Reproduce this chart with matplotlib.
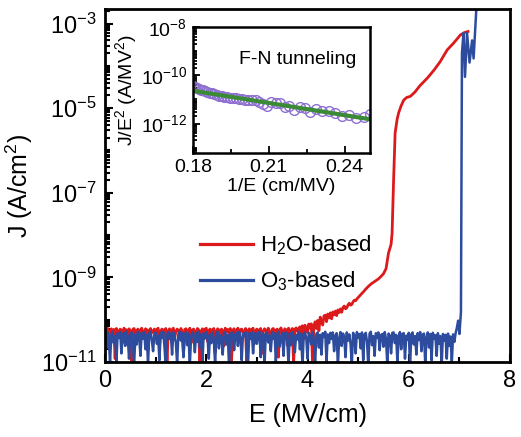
import numpy as np
import matplotlib
matplotlib.use("Agg")
import matplotlib.pyplot as plt
from matplotlib.ticker import FixedLocator, LogLocator, NullFormatter, MultipleLocator

plt.rcParams['font.family'] = ['Liberation Sans', 'DejaVu Sans']
plt.rcParams['mathtext.fontset'] = 'custom'
plt.rcParams['mathtext.rm'] = 'Liberation Sans'
plt.rcParams['mathtext.it'] = 'Liberation Sans:italic'
plt.rcParams['mathtext.bf'] = 'Liberation Sans:bold'

# bias sweep step (MV/cm)
step = 0.025

# O3-based film: leakage floor from 0 to 7.0 MV/cm, in units of 1e-11 A/cm2
o3_floor = [4.6, 2.1, 5.0, 3.4, 1.0, 4.4, 5.2, 2.8, 4.1, 0.9, 4.8, 3.7, 5.1, 1.6, 4.3, 4.9, 2.4, 5.3, 3.9, 1.2,
            4.7, 5.0, 3.1, 0.8, 4.5, 2.6, 5.2, 4.0, 1.4, 4.9, 3.6, 5.1, 2.0, 4.4, 0.9, 4.8, 5.3, 3.3, 1.8, 4.6,
            5.0, 2.7, 4.2, 1.1, 4.9, 3.8, 5.2, 2.3, 0.8, 4.5, 5.1, 3.5, 4.7, 1.5, 5.0, 4.1, 2.9, 0.9, 4.6, 5.2,
            3.2, 4.8, 1.3, 4.4, 5.0, 2.5, 4.7, 0.8, 3.9, 5.1, 4.3, 1.7, 4.9, 3.0, 5.2, 2.2, 4.5, 1.0, 4.8, 3.6,
            5.1, 4.0, 1.2, 4.6, 2.8, 5.0, 3.4, 0.9, 4.7, 5.2, 2.1, 4.3, 3.8, 1.5, 4.9, 5.1, 2.6, 4.4, 0.8, 4.8,
            3.3, 5.0, 1.9, 4.5, 4.9, 2.4, 5.2, 3.7, 1.1, 4.6, 4.1, 5.0, 2.0, 0.9, 4.8, 3.5, 5.1, 1.6, 4.3, 4.9,
            2.7, 4.6, 5.2, 1.3, 3.9, 4.8, 0.8, 4.4, 5.0, 2.9, 4.2, 1.8, 5.1, 3.6, 4.7, 1.0, 4.5, 5.2, 2.3, 3.8,
            4.9, 1.4, 4.6, 5.0, 3.1, 0.9, 4.8, 2.5, 5.1, 4.0, 1.7, 4.4, 3.4, 5.2, 2.0, 4.7, 0.8, 4.3, 5.0, 3.7,
            1.2, 4.9, 4.1, 2.6, 5.1, 3.3, 0.9, 4.6, 5.0, 2.2, 4.4, 1.5, 4.8, 3.9, 5.2, 1.0, 4.5, 2.8, 4.9, 3.5,
            5.0, 1.8, 4.2, 4.8, 0.8, 3.6, 5.1, 2.4, 4.7, 4.0, 1.3, 5.0, 3.2, 4.5, 2.7, 0.9, 4.9, 4.3, 1.6, 5.1,
            3.8, 4.6, 2.1, 5.0, 1.1, 4.4, 4.9, 3.0, 0.8, 4.7, 5.2, 2.5, 4.1, 1.4, 4.8, 3.7, 5.0, 1.9, 4.3, 4.6,
            2.3, 5.1, 3.5, 0.9, 4.7, 4.2, 1.6, 4.9, 5.0, 2.8, 4.4, 1.0, 3.9, 5.1, 2.0, 4.6, 4.8, 1.2, 4.2, 3.4,
            4.9, 0.8, 4.5, 5.0, 2.6, 4.1, 1.5, 4.8, 3.3, 5.1, 1.8, 4.4, 4.7, 0.9, 3.8, 5.0, 2.2, 4.6, 1.1, 4.9,
            3.6, 4.3, 1.4, 4.8, 2.7, 4.1, 0.9, 4.6, 3.2, 4.4, 1.2, 4.7, 2.4, 4.0, 1.0, 4.5, 3.0, 4.8, 6.5, 9.5,
            4.6]
# O3-based breakdown
o3_bd_E = [7.03, 7.05, 7.08, 7.11, 7.15, 7.20, 7.25, 7.28, 7.35]
o3_bd_J = [1.5e-10, 2e-4, 6e-4, 5.5e-5, 6e-4, 1.2e-4, 4e-4, 1.5e-4, 5e-3]

# H2O-based film: 0 to 5.5 MV/cm, in units of 1e-11 A/cm2
h2o_low = [5.8, 4.9, 6.3, 2.6, 5.5, 6.1, 4.4, 5.9, 1.2, 6.2, 5.3, 4.7, 6.0, 5.6, 2.9, 6.3, 5.0, 5.8, 4.2, 6.1,
           5.5, 0.8, 5.9, 6.2, 4.8, 5.4, 6.0, 3.3, 5.7, 6.3, 5.1, 4.6, 6.1, 5.8, 1.9, 5.6, 6.2, 4.9, 5.3, 6.0,
           4.5, 5.9, 6.3, 2.2, 5.4, 6.0, 5.7, 4.3, 6.2, 0.9, 5.5, 6.1, 4.8, 5.8, 6.3, 3.6, 5.2, 6.0, 5.6, 4.4,
           6.2, 5.0, 1.5, 5.9, 6.1, 4.7, 5.5, 6.3, 2.8, 5.7, 6.0, 5.2, 4.1, 6.2, 5.8, 0.8, 5.4, 6.1, 4.9, 5.9,
           6.3, 3.1, 5.6, 6.0, 4.6, 5.8, 6.2, 1.7, 5.3, 6.1, 5.7, 4.4, 6.0, 5.5, 2.4, 6.3, 5.1, 5.9, 4.8, 6.2,
           1.1, 5.7, 6.1, 4.5, 5.4, 6.3, 3.4, 5.8, 6.0, 5.2, 4.7, 6.2, 0.9, 5.6, 6.1, 4.9, 5.9, 6.3, 2.7, 5.5,
           6.0, 4.3, 5.8, 6.2, 1.6, 5.3, 6.1, 5.7, 4.6, 6.3, 5.0, 3.0, 5.9, 6.2, 4.8, 5.4, 6.0, 1.3, 5.7, 6.4,
           5.2, 4.6, 6.1, 5.8, 2.5, 6.3, 5.5, 4.9, 6.2, 0.9, 5.9, 6.4, 5.3, 6.1,
           6.8, 4.5, 7.2, 3.5, 7.4, 6.0, 5.0, 7.9, 6.4, 8.0,
           0.8, 7.0, 8.9, 6.2, 9.6, 5.5, 11.5, 8.8, 7.5, 12.3,
           12.8, 9.0, 13.6, 11.0, 14.5, 10.5, 15.2, 13.0, 16.0, 12.5,
           17.0, 14.8, 18.0, 15.0, 19.5, 21.0, 18.2, 19.0, 22.5, 24.5,
           22.0, 23.0, 26.5, 29.0, 28.0, 31.0, 33.5, 36.0, 39.0, 42.0,
           45.0, 49.0, 53.0, 57.0, 61.0, 65.0, 69.0, 73.0, 76.0, 80.0,
           84.0, 88.0, 92.0, 98.0, 105.0, 113.0, 122.0]
# H2O-based high field part
h2o_hi_E = [5.55, 5.60, 5.65, 5.67, 5.70, 5.73, 5.77, 5.80, 5.85, 5.90,
            5.96, 6.03, 6.12, 6.22, 6.37, 6.50, 6.62, 6.76, 6.88, 7.02,
            7.11, 7.17]
h2o_hi_J = [1.6e-9, 3.8e-9, 6e-9, 1.1e-8, 2e-7, 2.6e-6, 5.5e-6, 7.8e-6, 1.15e-5, 1.55e-5,
            1.8e-5, 1.9e-5, 2.4e-5, 3.4e-5, 5.2e-5, 8e-5, 1.26e-4, 2.4e-4, 3.4e-4, 5.4e-4,
            6.2e-4, 6.5e-4]

# F-N plot of the H2O-based film
fn_x = [0.1800, 0.1808, 0.1816, 0.1824, 0.1832, 0.1840, 0.1849, 0.1858, 0.1867, 0.1876,
        0.1885, 0.1895, 0.1905, 0.1915, 0.1925, 0.1936, 0.1947, 0.1958, 0.1970, 0.1982,
        0.1994, 0.2007, 0.2020, 0.2034, 0.2048, 0.2063, 0.2078, 0.2094, 0.2110, 0.2127,
        0.2145, 0.2163, 0.2182, 0.2202, 0.2222, 0.2243, 0.2265, 0.2288, 0.2312, 0.2337,
        0.2363, 0.2390, 0.2418, 0.2447, 0.2477, 0.2500]
fn_y = [3.47e-11, 3.16e-11, 2.9e-11, 2.7e-11, 2.57e-11, 2.35e-11, 2.19e-11, 2.04e-11, 1.9e-11, 1.78e-11,
        1.66e-11, 1.51e-11, 1.41e-11, 1.38e-11, 1.29e-11, 1.26e-11, 1.17e-11, 1.15e-11, 1.12e-11, 1.02e-11,
        1.0e-11, 9.8e-12, 9.5e-12, 9.1e-12, 9.1e-12, 7.8e-12, 6.3e-12, 5.5e-12, 7.8e-12, 7.1e-12,
        6.9e-12, 5.0e-12, 5.4e-12, 3.8e-12, 5.0e-12, 4.5e-12, 3.1e-12, 3.9e-12, 3.3e-12, 3.2e-12,
        2.7e-12, 2.0e-12, 2.3e-12, 1.7e-12, 1.8e-12, 2.4e-12]
fit_x = [0.18, 0.25]
fit_y = [2.3e-11, 1.5e-12]

red = '#dc1a1c'
blue = '#2e4c9e'

o3_E = np.round(np.arange(len(o3_floor)) * step, 3)
h2o_E = np.round(np.arange(len(h2o_low)) * step, 3)
o3_all_E = np.concatenate([o3_E, o3_bd_E])
o3_all_J = np.concatenate([np.array(o3_floor) * 1e-11, o3_bd_J])
h2o_all_E = np.concatenate([h2o_E, h2o_hi_E])
h2o_all_J = np.concatenate([np.array(h2o_low) * 1e-11, h2o_hi_J])

fig = plt.figure(figsize=(5.21, 4.37), dpi=100)
ax = fig.add_axes([0.2015, 0.1716, 0.7775, 0.8076])

ax.plot(h2o_all_E, h2o_all_J, color=red, lw=2.0, label='H$_2$O-based')
ax.plot(o3_all_E, o3_all_J, color=blue, lw=1.8, label='O$_3$-based')

ax.set_yscale('log')
ax.set_xlim(0, 8)
ax.set_ylim(1e-11, 2.2e-3)
ax.xaxis.set_major_locator(MultipleLocator(2))
ax.xaxis.set_minor_locator(MultipleLocator(1))
ax.yaxis.set_major_locator(FixedLocator([1e-11, 1e-9, 1e-7, 1e-5, 1e-3]))
ax.yaxis.set_minor_locator(LogLocator(base=10, subs=np.arange(1, 10), numticks=30))
ax.yaxis.set_minor_formatter(NullFormatter())
ax.tick_params(which='both', direction='in', top=False, right=False, width=1.5,
               labelsize=17)
ax.tick_params(which='major', length=6, pad=6)
ax.tick_params(which='minor', length=3.5)
for s in ax.spines.values():
    s.set_linewidth(2)

ax.set_xlabel('E (MV/cm)', fontsize=18, labelpad=8)
ax.set_ylabel('J (A/cm$^2$)', fontsize=18, labelpad=4)

leg = ax.legend(loc='upper left', bbox_to_anchor=(0.185, 0.42), frameon=False,
                fontsize=16, handlelength=2.4, handletextpad=0.3, labelspacing=0.55)
for h in leg.get_lines():
    h.set_linewidth(2.3)

# inset: F-N tunneling fit
ins = fig.add_axes([0.370, 0.650, 0.340, 0.288])
ins.plot(fn_x, fn_y, 'o', ms=7, mfc='none', mec='#8e70d2', mew=1.0)
ins.plot(fit_x, fit_y, color='#3b8a35', lw=3)
ins.set_yscale('log')
ins.set_xlim(0.18, 0.25)
ins.set_ylim(6e-14, 1e-8)
ins.xaxis.set_major_locator(FixedLocator([0.18, 0.21, 0.24]))
ins.xaxis.set_minor_locator(FixedLocator([0.195, 0.225]))
ins.set_xticklabels(['0.18', '0.21', '0.24'])
ins.yaxis.set_major_locator(FixedLocator([1e-12, 1e-10, 1e-8]))
ins.yaxis.set_minor_locator(LogLocator(base=10, subs=np.arange(1, 10), numticks=30))
ins.yaxis.set_minor_formatter(NullFormatter())
ins.tick_params(which='both', direction='in', top=False, right=False, width=1.3,
                labelsize=14)
ins.tick_params(which='major', length=5, pad=4)
ins.tick_params(which='minor', length=3)
for s in ins.spines.values():
    s.set_linewidth(1.8)
ins.set_xlabel('1/E (cm/MV)', fontsize=14, labelpad=2)
ins.set_ylabel('J/E$^2$ (A/MV$^2$)', fontsize=14, labelpad=1)
ins.text(0.59, 0.74, 'F-N tunneling', transform=ins.transAxes, fontsize=14,
         ha='center', va='center')

fig.savefig('out.png', dpi=100)
